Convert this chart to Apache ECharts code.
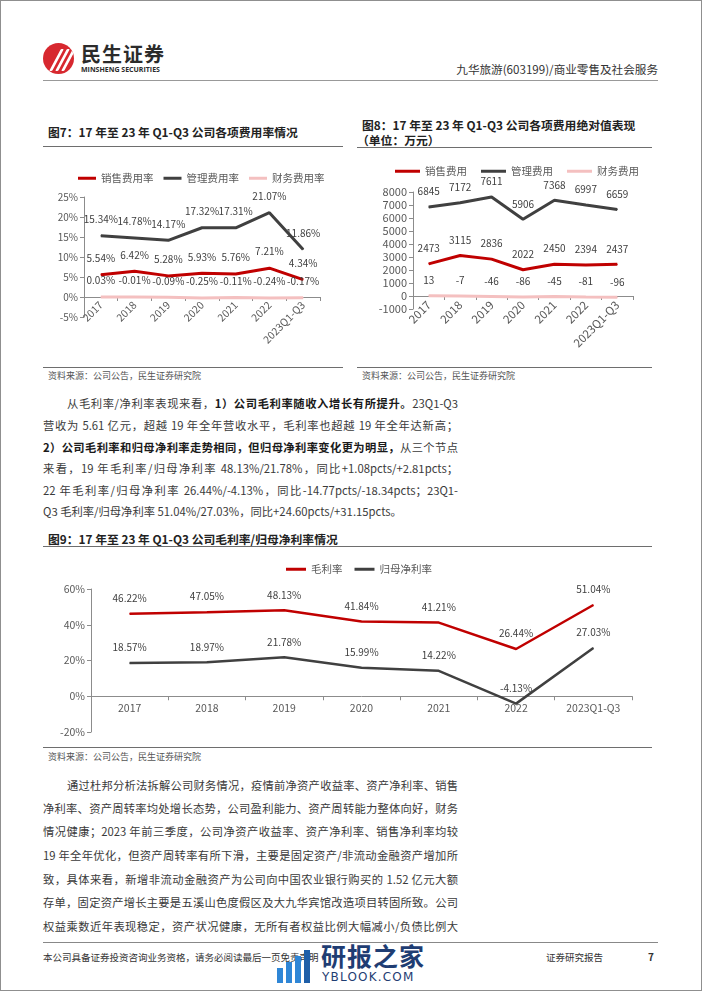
<!DOCTYPE html>
<html>
<head>
<meta charset="utf-8">
<script src="https://cdn.jsdelivr.net/npm/echarts@6.0.0/dist/echarts.min.js"></script>
<style>
  body { margin: 0; background: #fff; }
  .page { position: relative; width: 702px; height: 991px; overflow: hidden; background: #fff;
          font-family: "Noto Sans CJK SC", "Noto Sans", sans-serif; color: #333; }
  .frame { position: absolute; left: 0; top: 0; right: 0; bottom: 0; border: 1px solid #8f8f8f; }
  .abs { position: absolute; white-space: nowrap; }
  .rule { position: absolute; height: 0; border-top: 1.5px solid #6e6e6e; }
  .title { font-size: 11.8px; font-weight: bold; color: #222; line-height: 16px; }
  .src { font-size: 9px; color: #555; line-height: 12px; }
  .line { position: absolute; left: 43px; width: 415px; font-size: 11.3px; line-height: 16px;
          color: #3a3a3a; text-align: justify; text-align-last: justify; white-space: normal; }
  .line b { color: #1a1a1a; }
  .chart { position: absolute; }
  .logo { position: absolute; left: 43px; top: 43px; width: 31px; height: 31px; border-radius: 50%;
          background: #d7282f; overflow: hidden; }
  .logo i { position: absolute; top: 6px; width: 3px; height: 22px; background: #fff; transform: skewX(-28deg); border-radius: 1px; }
  .wm-bar { position: absolute; width: 6px; background: #2f86d6; }
</style>
</head>
<body>
<div class="page">
  <div class="frame"></div>

  <!-- header -->
  <div class="logo"><i style="left:12px"></i><i style="left:18px"></i><i style="left:24px"></i></div>
  <div class="abs" style="left:81px;top:42px;font-size:20px;font-weight:bold;color:#2b2b2b;letter-spacing:1px;line-height:24px;">民生证券</div>
  <div class="abs" style="left:81px;top:65px;font-size:7px;font-weight:bold;color:#2b2b2b;line-height:9px;font-family:'Open Sans',sans-serif;">MINSHENG SECURITIES</div>
  <div class="abs" style="right:44px;top:61px;font-size:11.6px;line-height:16px;color:#333;">九华旅游(603199)/商业零售及社会服务</div>
  <div class="rule" style="left:43px;width:615px;top:80px;border-top:1.5px solid #999;"></div>

  <!-- figure 7 -->
  <div class="abs title" style="left:48px;top:124px;">图7：17 年至 23 年 Q1-Q3 公司各项费用率情况</div>
  <div class="rule" style="left:43px;width:300px;top:146px;"></div>
  <div id="fig7" class="chart" style="left:43px;top:155px;width:300px;height:210px;"></div>
  <div class="rule" style="left:43px;width:300px;top:367px;"></div>
  <div class="abs src" style="left:48px;top:370px;">资料来源：公司公告，民生证券研究院</div>

  <!-- figure 8 -->
  <div class="abs title" style="left:362px;top:117px;">图8：17 年至 23 年 Q1-Q3 公司各项费用绝对值表现</div>
  <div class="abs title" style="left:357px;top:132px;">（单位：万元）</div>
  <div class="rule" style="left:357px;width:295px;top:147px;"></div>
  <div id="fig8" class="chart" style="left:355px;top:155px;width:300px;height:210px;"></div>
  <div class="rule" style="left:357px;width:295px;top:367px;"></div>
  <div class="abs src" style="left:362px;top:370px;">资料来源：公司公告，民生证券研究院</div>

  <!-- paragraph 1 -->
  <div class="line" style="top:395px;left:67px;width:391px;">从毛利率/净利率表现来看，<b>1）公司毛利率随收入增长有所提升。</b>23Q1-Q3</div>
  <div class="line" style="top:417px;">营收为 5.61 亿元，超越 19 年全年营收水平，毛利率也超越 19 年全年达新高；</div>
  <div class="line" style="top:439px;"><b>2）公司毛利率和归母净利率走势相同，但归母净利率变化更为明显，</b>从三个节点</div>
  <div class="line" style="top:460px;">来看，19 年毛利率/归母净利率 48.13%/21.78%，同比+1.08pcts/+2.81pcts；</div>
  <div class="line" style="top:482px;">22 年毛利率/归母净利率 26.44%/-4.13%，同比-14.77pcts/-18.34pcts；23Q1-</div>
  <div class="line" style="top:503px;text-align:left;text-align-last:left;">Q3 毛利率/归母净利率 51.04%/27.03%，同比+24.60pcts/+31.15pcts。</div>

  <!-- figure 9 -->
  <div class="abs title" style="left:48px;top:531px;">图9：17 年至 23 年 Q1-Q3 公司毛利率/归母净利率情况</div>
  <div class="rule" style="left:43px;width:609px;top:546px;"></div>
  <div id="fig9" class="chart" style="left:43px;top:550px;width:620px;height:195px;"></div>
  <div class="rule" style="left:43px;width:609px;top:747px;"></div>
  <div class="abs src" style="left:48px;top:751px;">资料来源：公司公告，民生证券研究院</div>

  <!-- paragraph 2 -->
  <div class="line" style="top:777px;left:67px;width:391px;">通过杜邦分析法拆解公司财务情况，疫情前净资产收益率、资产净利率、销售</div>
  <div class="line" style="top:800px;">净利率、资产周转率均处增长态势，公司盈利能力、资产周转能力整体向好，财务</div>
  <div class="line" style="top:823px;">情况健康；2023 年前三季度，公司净资产收益率、资产净利率、销售净利率均较</div>
  <div class="line" style="top:847px;">19 年全年优化，但资产周转率有所下滑，主要是固定资产/非流动金融资产增加所</div>
  <div class="line" style="top:871px;">致，具体来看，新增非流动金融资产为公司向中国农业银行购买的 1.52 亿元大额</div>
  <div class="line" style="top:894px;">存单，固定资产增长主要是五溪山色度假区及大九华宾馆改造项目转固所致。公司</div>
  <div class="line" style="top:918px;">权益乘数近年表现稳定，资产状况健康，无所有者权益比例大幅减小/负债比例大</div>

  <!-- footer -->
  <div class="rule" style="left:43px;width:615px;top:942px;border-top:1.5px solid #888;"></div>
  <div class="abs" style="left:43px;top:950px;font-size:9.5px;line-height:14px;color:#333;">本公司具备证券投资咨询业务资格，请务必阅读最后一页免责声明</div>
  <div class="abs" style="left:546px;top:950px;font-size:9.5px;line-height:14px;color:#333;">证券研究报告</div>
  <div class="abs" style="left:648px;top:950px;font-size:10px;line-height:14px;color:#333;font-weight:bold;">7</div>

  <!-- watermark -->
  <div class="wm-bar" style="left:277px;top:968px;height:15px;"></div>
  <div class="wm-bar" style="left:286px;top:962px;height:21px;"></div>
  <div class="wm-bar" style="left:295px;top:956px;height:27px;"></div>
  <div class="wm-bar" style="left:304px;top:950px;height:33px;background:#1f5fa8;"></div>
  <div class="abs" style="left:321px;top:940px;font-size:25px;line-height:30px;color:#1f3d73;font-weight:bold;letter-spacing:1px;">研报之家</div>
  <div class="abs" style="left:322px;top:970px;font-size:12px;line-height:14px;color:#1f3d73;letter-spacing:1.2px;font-family:'DejaVu Sans',sans-serif;">YBLOOK.COM</div>
</div>

<script>
  // categories
  const years = ['2017', '2018', '2019', '2020', '2021', '2022', '2023Q1-Q3'];

  // 图7 费用率 (%)
  const salesRate = [5.54, 6.42, 5.28, 5.93, 5.76, 7.21, 4.34];
  const adminRate = [15.34, 14.78, 14.17, 17.32, 17.31, 21.07, 11.86];
  const financeRate = [0.03, -0.01, -0.09, -0.25, -0.11, -0.24, -0.17];

  // 图8 费用绝对值 (万元)
  const salesExp = [2473, 3115, 2836, 2022, 2450, 2394, 2437];
  const adminExp = [6845, 7172, 7611, 5906, 7368, 6997, 6659];
  const financeExp = [13, -7, -46, -86, -45, -81, -96];

  // 图9 毛利率 / 归母净利率 (%)
  const grossMargin = [46.22, 47.05, 48.13, 41.84, 41.21, 26.44, 51.04];
  const netMargin = [18.57, 18.97, 21.78, 15.99, 14.22, -4.13, 27.03];

  const FONT = '"Noto Sans CJK SC", "Noto Sans", sans-serif';
  const RED = '#c00000';
  const GREY = '#404040';
  const PINK = '#f4c0c0';
  const AXIS = '#8c8c8c';

  function pct(p) {
    return p.value.toFixed(2) + '%';
  }

  function plain(p) {
    return String(p.value);
  }

  function lineSeries(name, data, color, width, distance, formatter) {
    return {
      name: name,
      type: 'line',
      data: data,
      // tiny symbol so the labels still show
      symbol: 'circle',
      symbolSize: 1,
      showSymbol: true,
      smooth: false,
      lineStyle: { color: color, width: width },
      itemStyle: { color: color },
      label: {
        show: true,
        position: 'top',
        distance: distance,
        fontSize: 10,
        color: '#404040',
        fontFamily: FONT,
        formatter: formatter,
      },
    };
  }

  function baseAxes(opt) {
    return {
      xAxis: {
        type: 'category',
        data: years,
        boundaryGap: true,
        axisLine: { onZero: true, lineStyle: { color: AXIS, width: 1 } },
        axisTick: { show: true, length: 4, lineStyle: { color: AXIS } },
        axisLabel: {
          interval: 0,
          rotate: opt.rotate,
          fontSize: opt.xSize,
          color: '#595959',
          margin: opt.xMargin, // labels sit at grid bottom, pull them up to the 0 line
          fontFamily: FONT,
        },
      },
      yAxis: {
        type: 'value',
        min: opt.min,
        max: opt.max,
        interval: opt.interval,
        axisLine: { show: true, lineStyle: { color: AXIS, width: 1 } },
        axisTick: { show: true, length: 4, lineStyle: { color: AXIS } },
        splitLine: { show: false },
        axisLabel: {
          formatter: opt.yFormat,
          fontSize: opt.ySize,
          color: '#595959',
          margin: 6,
          fontFamily: FONT,
        },
      },
    };
  }

  // 图7
  let chart7 = echarts.init(document.getElementById('fig7'));
  let option7 = Object.assign({
    animation: false,
    textStyle: { fontFamily: FONT },
    legend: {
      left: 30, top: 13, icon: 'rect', itemWidth: 18, itemHeight: 3, itemGap: 10,
      textStyle: { fontSize: 10.5, color: '#595959', fontFamily: FONT },
      data: ['销售费用率', '管理费用率', '财务费用率'],
    },
    grid: { left: 41, right: 23, top: 42, bottom: 48, outerBoundsMode: 'none' },
    series: [
      lineSeries('销售费用率', salesRate, RED, 3, 11, pct),
      lineSeries('管理费用率', adminRate, GREY, 3, 11, pct),
      lineSeries('财务费用率', financeRate, PINK, 3, 11, pct),
    ],
  }, baseAxes({ rotate: 45, xSize: 10.5, xMargin: -14, min: -5, max: 25, interval: 5, yFormat: (v) => v + '%', ySize: 10 }));
  chart7.setOption(option7);

  // 图8
  let chart8 = echarts.init(document.getElementById('fig8'));
  let option8 = Object.assign({
    animation: false,
    textStyle: { fontFamily: FONT },
    legend: {
      left: 35, top: 6, icon: 'rect', itemWidth: 25, itemHeight: 3, itemGap: 14,
      textStyle: { fontSize: 10.5, color: '#595959', fontFamily: FONT },
      data: ['销售费用', '管理费用', '财务费用'],
    },
    grid: { left: 58, right: 22, top: 37, bottom: 56, outerBoundsMode: 'none' },
    series: [
      lineSeries('销售费用', salesExp, RED, 3, 10, plain),
      lineSeries('管理费用', adminExp, GREY, 3, 10, plain),
      lineSeries('财务费用', financeExp, PINK, 3, 10, plain),
    ],
  }, baseAxes({ rotate: 45, xSize: 11.5, xMargin: -6, min: -1000, max: 8000, interval: 1000, yFormat: (v) => String(v), ySize: 11 }));
  chart8.setOption(option8);

  // 图9
  let chart9 = echarts.init(document.getElementById('fig9'));
  let option9 = Object.assign({
    animation: false,
    textStyle: { fontFamily: FONT },
    legend: {
      left: 238, top: 9, icon: 'rect', itemWidth: 20, itemHeight: 3, itemGap: 12,
      textStyle: { fontSize: 10.5, color: '#595959', fontFamily: FONT },
      data: ['毛利率', '归母净利率'],
    },
    grid: { left: 48, right: 31, top: 39, bottom: 13, outerBoundsMode: 'none' },
    series: [
      lineSeries('毛利率', grossMargin, RED, 2.5, 10, pct),
      lineSeries('归母净利率', netMargin, GREY, 2.5, 10, pct),
    ],
  }, baseAxes({ rotate: 0, xSize: 10.5, xMargin: -29, min: -20, max: 60, interval: 20, yFormat: (v) => v + '%', ySize: 10.5 }));
  chart9.setOption(option9);
</script>
</body>
</html>
